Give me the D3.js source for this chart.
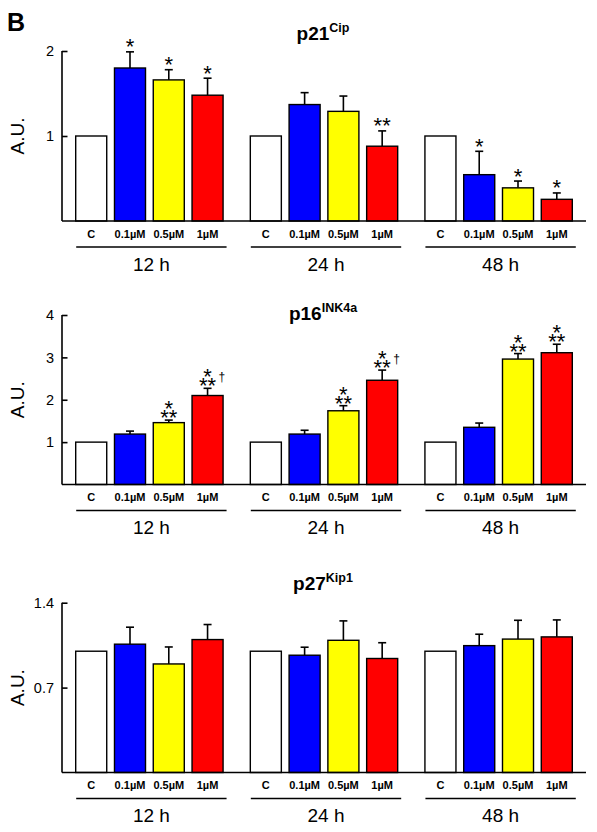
<!DOCTYPE html>
<html><head><meta charset="utf-8">
<script src="https://cdn.jsdelivr.net/npm/d3@7"></script>
<style>body{margin:0;background:#fff}svg{display:block}text{font-family:"Liberation Sans",Arial,sans-serif;fill:#000}</style>
</head><body><svg id="c" width="597" height="832"></svg>
<script>
// ---- data ----
const groups = ["12 h", "24 h", "48 h"];
const doses = ["C", "0.1\u00B5M", "0.5\u00B5M", "1\u00B5M"];
const doseColors = ["#ffffff", "#0000ff", "#ffff00", "#ff0000"];

const p21Values = [[1, 1.80, 1.66, 1.48], [1, 1.37, 1.29, 0.88], [1, 0.545, 0.39, 0.255]];
const p21Errors = [[0, 0.19, 0.12, 0.20], [0, 0.14, 0.18, 0.18], [0, 0.275, 0.08, 0.075]];
const p21Marks = [["", "*", "*", "*"], ["", "", "", "**"], ["", "*", "*", "*"]];
const p21Ticks = [1, 2];

const p16Values = [[1, 1.19, 1.46, 2.10], [1, 1.19, 1.74, 2.46], [1, 1.35, 2.96, 3.11]];
const p16Errors = [[0, 0.07, 0.06, 0.17], [0, 0.09, 0.12, 0.24], [0, 0.10, 0.13, 0.20]];
const p16Marks = [["", "", "*|**", "*|**|\u2020"], ["", "", "*|**", "*|**|\u2020"], ["", "", "*|**", "*|**"]];
const p16Ticks = [1, 2, 3, 4];

const p27Values = [[1, 1.058, 0.895, 1.096], [1, 0.967, 1.09, 0.94], [1, 1.046, 1.10, 1.118]];
const p27Errors = [[0, 0.14, 0.14, 0.124], [0, 0.066, 0.16, 0.13], [0, 0.094, 0.155, 0.14]];
const p27Marks = [["", "", "", ""], ["", "", "", ""], ["", "", "", ""]];
const p27Ticks = [0.7, 1.4];

const panels = [
  {name: "p21", sup: "Cip", values: p21Values, errors: p21Errors, marks: p21Marks, ticks: p21Ticks, max: 2, y0: 221, yTop: 51, titleY: 40},
  {name: "p16", sup: "INK4a", values: p16Values, errors: p16Errors, marks: p16Marks, ticks: p16Ticks, max: 4, y0: 484.5, yTop: 315, titleY: 320},
  {name: "p27", sup: "Kip1", values: p27Values, errors: p27Errors, marks: p27Marks, ticks: p27Ticks, max: 1.4, y0: 772.5, yTop: 602.7, titleY: 590}
];

// ---- drawing ----
const svg = d3.select("#c");
const axisX = 62, axisRight = 586;
const xGroup = d3.scaleBand().domain(groups).range([75.7, 572.3]).paddingInner(0.156).paddingOuter(0);
const xDose = d3.scaleBand().domain(doses).range([0, xGroup.bandwidth()]).paddingInner(0.2).paddingOuter(0);
const color = d3.scaleOrdinal().domain(doses).range(doseColors);

svg.append("text").attr("x", 7).attr("y", 30.5).attr("font-size", 25).attr("font-weight", "bold").text("B");

panels.forEach(p => {
  const g = svg.append("g");
  const y = d3.scaleLinear().domain([0, p.max]).range([p.y0, p.yTop]);
  const base = y(0);

  // title
  const t = g.append("text").attr("x", 323).attr("y", p.titleY).attr("text-anchor", "middle")
    .attr("font-weight", "bold").attr("font-size", 19);
  t.append("tspan").text(p.name);
  t.append("tspan").attr("dy", -8).attr("font-size", 12.5).text(p.sup);

  // y axis
  const ax = d3.axisLeft(y).tickValues(p.ticks).tickSize(-5.5).tickPadding(14).tickFormat(d3.format("~g"));
  const axg = g.append("g").attr("transform", `translate(${axisX},0)`).call(ax);
  axg.select(".domain").attr("d", `M0,${base}V${y(p.max)}`).attr("stroke", "#000").attr("stroke-width", 1.6);
  axg.selectAll(".tick line").attr("stroke", "#000").attr("stroke-width", 1.6);
  axg.selectAll(".tick text").attr("font-size", 14.5).attr("font-family", "Liberation Sans, Arial, sans-serif").attr("fill", "#000").attr("x", -8);

  g.append("text").attr("transform", `translate(24,${(p.y0 + p.yTop) / 2 + 0})rotate(-90)`)
    .attr("text-anchor", "middle").attr("font-size", 19).text("A.U.");

  groups.forEach((grp, gi) => {
    const gx = xGroup(grp);
    doses.forEach((d, di) => {
      const v = p.values[gi][di], e = p.errors[gi][di];
      const bx = gx + xDose(d), bw = xDose.bandwidth(), cx = bx + bw / 2;
      if (e > 0) {
        g.append("line").attr("x1", cx).attr("x2", cx).attr("y1", y(v)).attr("y2", y(v + e)).attr("stroke", "#000").attr("stroke-width", 1.6);
        g.append("line").attr("x1", cx - 4).attr("x2", cx + 4).attr("y1", y(v + e)).attr("y2", y(v + e)).attr("stroke", "#000").attr("stroke-width", 1.6);
      }
      g.append("rect").attr("x", bx).attr("y", y(v)).attr("width", bw).attr("height", base - y(v))
        .attr("fill", color(d)).attr("stroke", "#000").attr("stroke-width", 1.4);
      // x label
      g.append("text").attr("x", cx).attr("y", base + 16.5).attr("text-anchor", "middle")
        .attr("font-size", 11).attr("font-weight", "bold").text(d);
      // significance marks
      const m = p.marks[gi][di];
      if (m) {
        const parts = m.split("|");
        const top = y(v + e);
        if (parts.length === 1) {
          g.append("text").attr("x", cx).attr("y", top + 2.5).attr("text-anchor", "middle").attr("font-size", 22).text(parts[0]);
        } else {
          const mt = g.append("text").attr("font-size", 22);
          mt.append("tspan").attr("x", cx).attr("y", top - 4).attr("text-anchor", "middle").text(parts[0]);
          mt.append("tspan").attr("x", cx).attr("y", top + 5).attr("text-anchor", "middle").text(parts[1]);
          if (parts[2]) mt.append("tspan").attr("x", cx + 11).attr("y", top - 7.5).attr("font-size", 12).attr("text-anchor", "start").text(parts[2]);
        }
      }
    });
    // group underline + label
    const x1 = gx + 0.5, x2 = gx + xGroup.bandwidth() + 3.5;
    g.append("line").attr("x1", x1).attr("x2", x2).attr("y1", base + 26).attr("y2", base + 26).attr("stroke", "#000").attr("stroke-width", 1.6);
    g.append("text").attr("x", (x1 + x2) / 2).attr("y", base + 49.5).attr("text-anchor", "middle").attr("font-size", 19).text(grp);
  });

  // baseline
  g.append("line").attr("x1", axisX).attr("x2", axisRight).attr("y1", base).attr("y2", base).attr("stroke", "#000").attr("stroke-width", 1.6);
});
</script></body></html>
